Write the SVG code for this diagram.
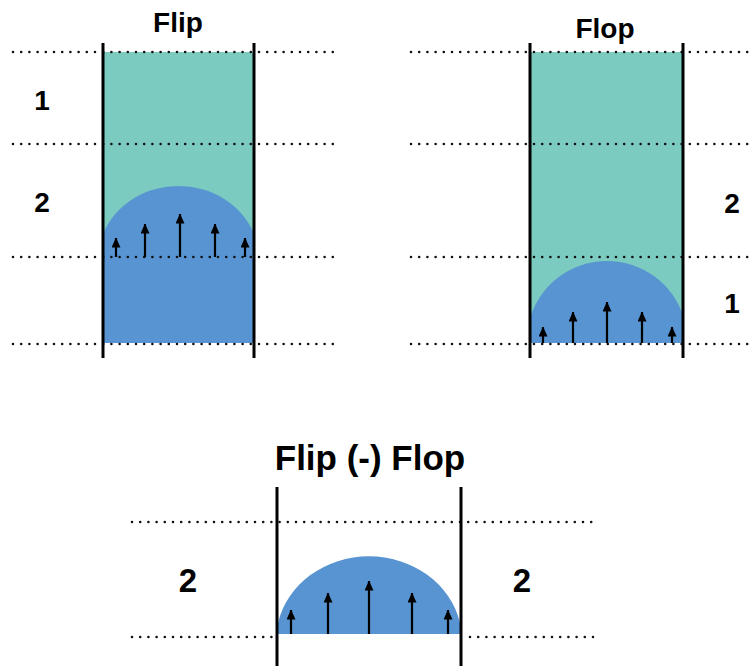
<svg xmlns="http://www.w3.org/2000/svg" width="752" height="666" viewBox="0 0 752 666">
<defs>
<marker id="ah" markerUnits="userSpaceOnUse" markerWidth="10" markerHeight="9" viewBox="0 0 10 9" refX="9.5" refY="4.5" orient="auto">
<path d="M0,0 L10,4.5 L0,9 Z" fill="#000"/>
</marker>
</defs>
<style>
.dot{stroke:#111;stroke-width:2.6;stroke-linecap:round;stroke-dasharray:0 8.2;fill:none}
.wall{stroke:#000;stroke-width:3;fill:none}
.teal{fill:#7bcbc0}
.blue{fill:#5794d1}
.arr{stroke:#000;stroke-width:2.2;fill:none;marker-end:url(#ah)}
.lbl{font-family:"Liberation Sans",Arial,sans-serif;font-weight:bold;fill:#000;text-anchor:middle}
</style>
<rect width="752" height="666" fill="#fff"/>

<g id="flip">
<rect class="teal" x="103" y="52" width="151" height="205"/>
<path class="blue" d="M103.5,343 V233 A80 72 0 0 1 253.5,233 V343 Z"/>
<line class="dot" x1="13" y1="52" x2="333" y2="52"/>
<line class="dot" x1="13" y1="144" x2="333" y2="144"/>
<line class="dot" x1="13" y1="257" x2="333" y2="257"/>
<line class="dot" x1="13" y1="344" x2="333" y2="344"/>
<line class="wall" x1="103" y1="43" x2="103" y2="358"/>
<line class="wall" x1="254" y1="43" x2="254" y2="358"/>
<line class="arr" x1="116" y1="257" x2="116" y2="238"/>
<line class="arr" x1="145" y1="257" x2="145" y2="224"/>
<line class="arr" x1="180" y1="257" x2="180" y2="214"/>
<line class="arr" x1="215" y1="257" x2="215" y2="224"/>
<line class="arr" x1="245" y1="257" x2="245" y2="238"/>
<text class="lbl" x="178" y="32" font-size="28">Flip</text>
<text class="lbl" x="42" y="110" font-size="28">1</text>
<text class="lbl" x="42" y="212" font-size="28">2</text>
</g>

<g id="flop">
<rect class="teal" x="530" y="52" width="153" height="291"/>
<path class="blue" d="M530.5,343 V317 A80 79 0 0 1 683.5,317 V343 Z"/>
<line class="dot" x1="411" y1="52" x2="752" y2="52"/>
<line class="dot" x1="411" y1="144" x2="752" y2="144"/>
<line class="dot" x1="411" y1="257" x2="752" y2="257"/>
<line class="dot" x1="411" y1="344" x2="752" y2="344"/>
<line class="wall" x1="530" y1="43" x2="530" y2="358"/>
<line class="wall" x1="683" y1="43" x2="683" y2="358"/>
<line class="arr" x1="543" y1="343" x2="543" y2="327"/>
<line class="arr" x1="573" y1="343" x2="573" y2="312"/>
<line class="arr" x1="607" y1="343" x2="607" y2="302"/>
<line class="arr" x1="642" y1="343" x2="642" y2="312"/>
<line class="arr" x1="672" y1="343" x2="672" y2="327"/>
<text class="lbl" x="605" y="38" font-size="28">Flop</text>
<text class="lbl" x="732" y="213" font-size="28">2</text>
<text class="lbl" x="732" y="313" font-size="28">1</text>
</g>

<g id="difference">
<line class="dot" x1="132" y1="522" x2="594" y2="522"/>
<line class="dot" x1="132" y1="637" x2="272" y2="637"/>
<line class="dot" x1="470" y1="637" x2="594" y2="637"/>
<path class="blue" d="M278,634 V623 A93 84 0 0 1 460,623 V634 Z"/>
<line class="wall" x1="277" y1="487" x2="277" y2="666"/>
<line class="wall" x1="461" y1="487" x2="461" y2="666"/>
<line class="arr" x1="291" y1="634" x2="291" y2="610"/>
<line class="arr" x1="328" y1="634" x2="328" y2="593"/>
<line class="arr" x1="369" y1="634" x2="369" y2="581"/>
<line class="arr" x1="412" y1="634" x2="412" y2="593"/>
<line class="arr" x1="448" y1="634" x2="448" y2="610"/>
<text class="lbl" x="370" y="470" font-size="35">Flip (-) Flop</text>
<text class="lbl" x="188" y="592" font-size="33">2</text>
<text class="lbl" x="522" y="592" font-size="33">2</text>
</g>
</svg>
